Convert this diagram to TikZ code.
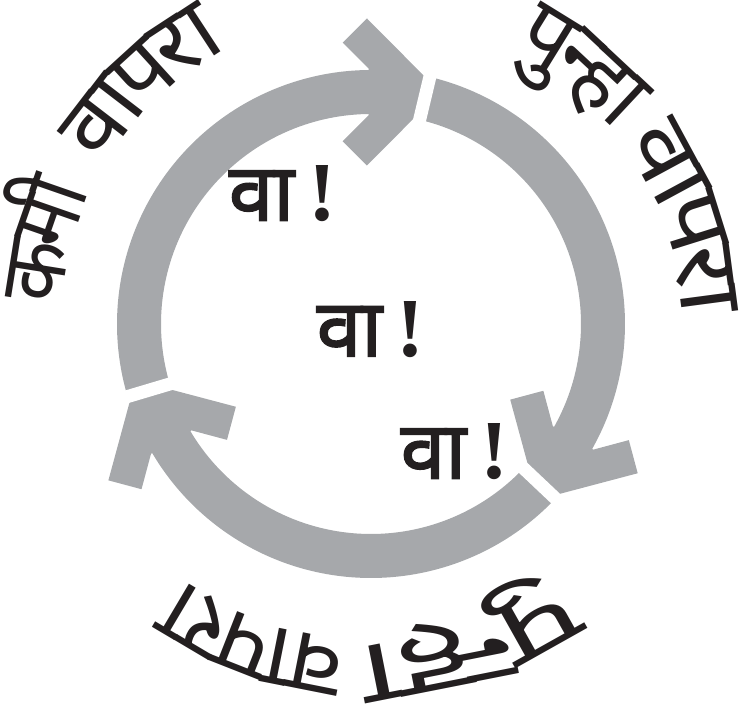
\documentclass[tikz,border=0pt]{standalone}
\usepackage{fontspec}
\newfontfamily\devfont[Script=Devanagari]{Noto Sans}
\newfontfamily\devbold[Script=Devanagari,FakeBold=2.2]{Noto Sans}
\newfontfamily\exclfont{Liberation Serif}
\definecolor{ringgray}{RGB}{166,168,171}
\definecolor{ink}{RGB}{35,31,32}
\newlength\tmpl
\newcommand\lblfont{\devfont\fontsize{90}{98}\selectfont}
\newcommand\wafont{\devbold\fontsize{80}{90}\selectfont}
\newcommand\exfont{\exclfont\bfseries\fontsize{84}{90}\selectfont}
\tikzset{
  lbl/.style={anchor=base, inner sep=0pt, outer sep=0pt, text=ink},
  wa/.style={inner sep=0pt, outer sep=0pt, text=ink},
  band/.style={draw=ringgray, line width=44pt},
  gapcut/.style={draw=white, line width=13pt}
}
% #1 name prefix, #2 start angle, #3 end angle, #4 headline radius, #5 clusters (clockwise)
\newcommand\arcword[5]{%
  \pgfmathsetmacro\rbase{#4-\hlh}%
  \xdef\totw{0}%
  \foreach \cl in {#5}{%
    \pgfmathsetmacro\tw{\totw+\csname cw@\cl\endcsname}%
    \xdef\totw{\tw}}%
  \pgfmathsetmacro\kfac{((#2)-(#3))/(\totw/(#4)*180/pi)}%
  \xdef\curang{#2}%
  \foreach \cl [count=\ci] in {#5}{%
    \pgfmathsetmacro\stp{\csname cw@\cl\endcsname/(#4)*180/pi*\kfac}%
    \pgfmathsetmacro\midang{\curang-\stp/2}%
    \node[lbl, rotate=\midang-90, xscale=\kfac] (#1\ci) at (\midang:\rbase) {\lblfont\cl};%
    \pgfmathsetmacro\nxt{\curang-\stp}%
    \xdef\curang{\nxt}%
  }%
}
\newcommand\ringarrow{%
  \draw[band] (196.6:232) arc[start angle=196.6, end angle=89, radius=232];
  \begin{scope}[shift={(0,232)}]
    \fill[ringgray] (-4.1,73.6) -- (69,0) -- (-4.1,-73.6) -- (-28.35,-49.35)
      -- (-2.4,-23.4) -- (-2.4,23.4) -- (-28.35,49.35) -- cycle;
  \end{scope}
}
\begin{document}%
\settoheight\tmpl{\lblfont प}\xdef\hlh{\the\tmpl}%
\foreach \c in {क,मी,वा,प,रा,पु,न्हा}{%
  \settowidth\tmpl{\lblfont\c}%
  \expandafter\xdef\csname cw@\c\endcsname{\the\tmpl}}%
\begin{tikzpicture}[x=1pt,y=1pt]
\useasboundingbox (-371,-382) rectangle (371,324);
% three arrows of the cycle
\ringarrow
\begin{scope}[rotate=-120]\ringarrow\end{scope}
\begin{scope}[rotate=-240]\ringarrow\end{scope}
% gaps between the arrows
\foreach \g in {76.6,-43.4,-163.4}{\draw[gapcut] (\g:186) -- (\g:280);}
% labels along the circle
\arcword{tla}{175.7}{155.5}{366}{क,मी}
\arcword{tlb}{148.5}{118.3}{366}{वा,प,रा}
\arcword{tra}{62.2}{39.5}{364}{पु,न्हा}
\arcword{trb}{34.9}{2.2}{366}{वा,प,रा}
\arcword{bta}{-54.5}{-90.7}{372}{पु,न्हा}
\arcword{btb}{-95.2}{-125.6}{372}{वा,प,रा}
% centre texts
\node[wa] (wa1) at (-88.5,130.4) {\wafont वा\hspace{14pt}\exfont !};
\node[wa] (wa2) at (-0.6,-5.3) {\wafont वा\hspace{14pt}\exfont !};
\node[wa] (wa3) at (83.4,-127.5) {\wafont वा\hspace{14pt}\exfont !};
\end{tikzpicture}
\end{document}
